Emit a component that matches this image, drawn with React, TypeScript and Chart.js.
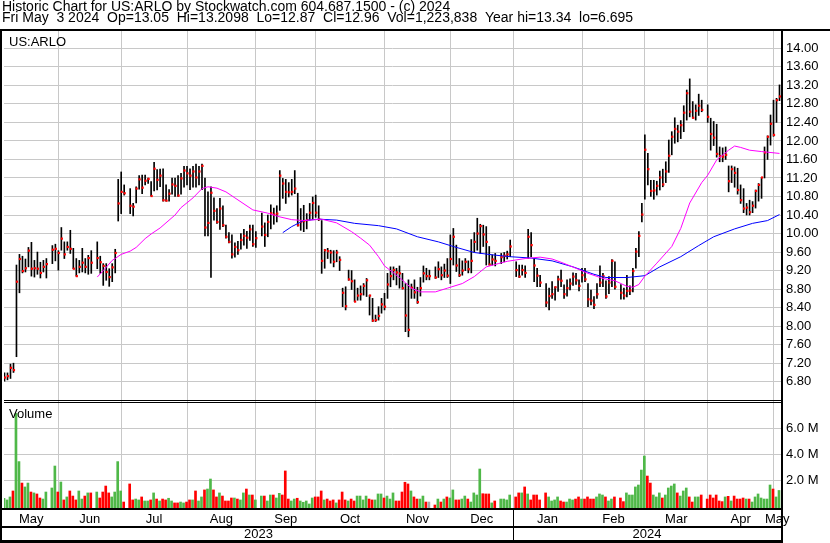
import React, { useEffect, useRef } from 'react';
import { Chart, registerables } from 'chart.js';

Chart.register(...registerables);

// Slot k = k-th weekday counted from Fri 5 May 2023 (k = 260 is Fri 3 May 2024); null = market holiday
const highs: (number | null)[] = [
  6.95, 6.99, 6.99, 7.18, 7.20, 9.32, 9.55, 9.51, 9.45, 9.70,
  9.81, 9.42, 9.60, 9.38, 9.42, 9.46, null, 9.74, 9.77, 9.63,
  10.13, 9.82, 9.82, 10.07, 9.68, 9.46, 9.42, 9.68, 9.46, 9.53,
  9.63, null, 9.82, 9.51, 9.35, 9.35, 9.24, 9.35, 9.66, 11.17,
  11.33, 11.05, null, 10.97, 10.65, 11.01, 11.25, 11.26, 11.26, 11.20,
  11.12, 11.54, 11.38, 11.39, 11.40, 11.05, 10.95, 11.20, 11.20, 11.25,
  11.30, 11.45, 11.45, 11.40, 11.45, 11.50, 11.45, 11.50, 11.20, 10.90,
  11.01, 10.77, 10.54, 10.76, 10.60, 10.18, 10.02, 9.97, 9.80, 9.83,
  10.00, 10.09, 10.05, 10.18, 10.18, 10.04, null, 10.44, 10.23, 10.40,
  10.62, 10.55, 10.60, 11.36, 11.19, 11.17, 11.10, 11.17, 11.36, 10.87,
  10.54, 10.61, 10.43, 10.65, 10.79, 10.83, 10.60, 10.28, 9.66, 9.68,
  9.64, 9.63, 9.64, 9.50, 8.82, 8.85, 9.21, 9.20, 9.00, 8.82,
  8.87, 8.92, 9.03, 8.67, 8.60, 8.24, 8.42, 8.60, 8.71, 9.14,
  9.28, 9.28, 9.25, 9.30, 9.14, 8.92, 9.00, 8.91, 9.00, 8.84,
  9.05, 9.30, 9.25, 9.21, null, 9.28, 9.39, 9.28, 9.34, 9.46,
  9.97, 10.11, 9.75, 9.46, 9.41, 9.46, 9.41, 9.87, 10.02, 10.33,
  10.20, 10.18, 10.15, 9.72, 9.54, 9.57, null, 9.57, 9.59, 9.62,
  9.86, null, 9.39, 9.32, 9.32, 9.30, 10.09, 10.02, 9.46, 9.25,
  9.10, null, 8.92, 8.82, 8.96, 8.85, 9.08, 9.21, 8.89, 9.00,
  9.02, 9.15, 9.14, 9.00, 9.25, 9.25, 8.92, 8.78, 8.64, 8.92,
  9.30, 9.14, 8.98, 9.07, 9.44, 9.39, null, 8.90, 8.82, 9.10,
  8.87, 9.25, 9.68, 10.04, 10.65, 12.13, 11.73, 11.15, 11.15, 11.13,
  11.35, 11.39, 11.55, 12.02, 12.20, 12.50, 12.34, 12.44, 12.76, 13.10,
  13.34, 12.85, 12.78, 13.01, 12.88, null, 12.78, 12.49, 12.42, 12.36,
  11.87, 11.85, 11.87, 11.46, 11.46, 11.44, 11.41, 11.05, 10.97, 10.65,
  10.72, 10.69, 10.94, 11.08, 11.21, 11.87, 12.11, 12.56, 12.88, 12.92,
  13.21,
];

const lows: (number | null)[] = [
  6.70, 6.81, 6.84, 6.87, 7.00, 7.34, 8.72, 9.15, 9.17, 9.28,
  9.08, 9.06, 9.12, 9.04, 9.17, 9.04, null, 9.35, 9.41, 9.21,
  9.64, 9.46, 9.64, 9.57, 9.24, 9.08, 9.15, 9.17, 9.15, 9.12,
  9.14, null, 9.24, 9.14, 8.88, 8.99, 8.86, 8.96, 9.15, 10.27,
  10.43, 10.83, null, 10.43, 10.38, 10.66, 10.96, 10.86, 11.05, 11.08,
  10.81, 10.92, 10.94, 11.01, 10.70, 10.70, 10.70, 10.85, 10.80, 10.80,
  10.85, 11.00, 11.05, 10.95, 11.00, 11.00, 11.05, 10.95, 9.95, 9.95,
  9.05, 10.29, 10.22, 10.09, 10.15, 9.90, 9.80, 9.47, 9.49, 9.55,
  9.66, 9.75, 9.68, 9.85, 9.72, 9.70, null, 9.95, 9.72, 9.93,
  10.10, 10.20, 10.25, 10.50, 10.76, 10.65, 10.79, 10.83, 10.86, 10.16,
  10.07, 10.04, 10.10, 10.29, 10.30, 10.35, 10.28, 9.14, 9.25, 9.46,
  9.36, 9.28, 9.39, 9.20, 8.42, 8.35, 8.99, 8.79, 8.53, 8.56,
  8.56, 8.67, 8.64, 8.24, 8.10, 8.10, 8.13, 8.28, 8.35, 8.60,
  8.85, 9.00, 8.89, 8.82, 8.80, 7.88, 7.77, 8.60, 8.60, 8.49,
  8.65, 8.95, 9.00, 9.00, null, 9.03, 9.05, 9.00, 9.05, 9.05,
  8.92, 9.32, 9.18, 9.07, 9.10, 9.20, 9.15, 9.15, 9.60, 9.64,
  9.57, 9.72, 9.32, 9.32, 9.32, 9.30, null, 9.35, 9.39, 9.45,
  9.50, null, 9.07, 9.05, 9.10, 9.05, 9.46, 9.50, 8.96, 8.85,
  8.85, null, 8.42, 8.35, 8.60, 8.56, 8.75, 8.85, 8.60, 8.65,
  8.78, 8.88, 8.90, 8.76, 8.95, 8.96, 8.42, 8.46, 8.38, 8.60,
  8.85, 8.85, 8.60, 8.70, 8.85, 8.80, null, 8.58, 8.58, 8.63,
  8.68, 8.74, 9.25, 9.50, 10.25, 10.74, 11.05, 10.80, 10.74, 10.83,
  10.94, 11.01, 11.10, 11.32, 11.70, 11.95, 11.98, 12.05, 12.20, 12.45,
  12.52, 12.49, 12.45, 12.55, 12.63, null, 12.40, 11.80, 11.90, 11.65,
  11.55, 11.55, 11.60, 10.90, 11.10, 11.00, 10.85, 10.65, 10.45, 10.40,
  10.40, 10.45, 10.55, 10.70, 10.76, 11.20, 11.60, 11.91, 12.10, 12.40,
  12.87,
];

const closes: (number | null)[] = [
  6.88, 6.89, 6.92, 7.10, 7.05, 8.96, 9.45, 9.19, 9.25, 9.63,
  9.24, 9.25, 9.24, 9.15, 9.28, 9.34, null, 9.65, 9.67, 9.58,
  9.89, 9.55, 9.71, 9.67, 9.24, 9.08, 9.28, 9.37, 9.28, 9.47,
  9.37, null, 9.47, 9.38, 9.30, 9.17, 9.06, 9.27, 9.58, 10.65,
  10.90, 10.87, null, 10.60, 10.58, 10.97, 11.17, 10.99, 11.14, 11.18,
  10.81, 11.40, 11.16, 11.25, 10.72, 10.71, 10.86, 11.06, 11.03, 10.82,
  11.19, 11.36, 11.30, 11.25, 11.34, 11.21, 11.34, 11.46, 10.13, 10.23,
  10.88, 10.49, 10.25, 10.54, 10.18, 9.93, 9.82, 9.55, 9.71, 9.64,
  9.86, 9.95, 9.91, 10.09, 9.77, 9.90, null, 10.15, 9.97, 10.25,
  10.44, 10.41, 10.43, 11.25, 11.08, 10.90, 10.89, 10.90, 10.97, 10.18,
  10.25, 10.27, 10.29, 10.45, 10.66, 10.45, 10.31, 9.41, 9.64, 9.62,
  9.59, 9.39, 9.59, 9.43, 8.72, 8.43, 9.01, 8.97, 8.53, 8.66,
  8.69, 8.87, 8.99, 8.66, 8.12, 8.13, 8.22, 8.47, 8.42, 8.90,
  9.08, 9.21, 9.16, 9.14, 8.82, 8.23, 7.92, 8.83, 8.73, 8.52,
  8.82, 9.14, 9.08, 9.08, null, 9.05, 9.23, 9.10, 9.20, 9.09,
  9.45, 9.93, 9.31, 9.10, 9.20, 9.39, 9.23, 9.41, 9.82, 10.00,
  10.16, 9.98, 9.82, 9.33, 9.44, 9.41, null, 9.49, 9.52, 9.55,
  9.72, null, 9.21, 9.07, 9.21, 9.15, 9.93, 9.75, 9.31, 9.09,
  8.94, null, 8.51, 8.65, 8.69, 8.84, 9.01, 8.98, 8.69, 8.82,
  8.92, 9.07, 8.99, 8.87, 9.10, 9.01, 8.58, 8.55, 8.46, 8.69,
  8.94, 9.08, 8.64, 8.94, 9.41, 8.85, null, 8.72, 8.66, 8.76,
  8.77, 9.19, 9.61, 9.95, 10.41, 11.81, 11.39, 10.92, 10.93, 11.03,
  11.21, 11.06, 11.34, 11.68, 12.09, 12.26, 12.20, 12.34, 12.61, 13.03,
  12.63, 12.50, 12.65, 12.76, 12.67, null, 12.52, 12.15, 12.07, 11.72,
  11.67, 11.66, 11.70, 11.13, 11.39, 11.31, 10.94, 10.72, 10.54, 10.56,
  10.46, 10.60, 10.92, 11.05, 11.21, 11.75, 12.09, 12.37, 12.13, 12.88,
  12.96,
];

// daily volume in millions of shares
const volumesM: (number | null)[] = [
  0.60, 0.62, 0.49, 0.72, 1.18, 7.15, 3.44, 1.79, 1.49, 1.79,
  1.10, 1.03, 0.95, 0.64, 0.56, 1.10, null, 1.41, 3.10, 1.10,
  1.87, 0.49, 0.72, 1.18, 0.79, 0.49, 1.18, 0.56, 0.79, 1.03,
  1.03, null, 1.10, 0.64, 1.10, 1.56, 1.03, 0.72, 1.10, 3.44,
  1.18, 0.33, null, 1.72, 0.49, 0.56, 0.49, 0.72, 0.41, 0.41,
  0.49, 1.03, 0.56, 0.41, 0.56, 0.49, 0.62, 0.41, 0.26, 0.26,
  0.33, 0.26, 0.33, 0.49, 0.49, 1.18, 0.41, 0.72, 1.26, 1.33,
  2.10, 1.26, 0.72, 1.03, 0.79, 0.41, 0.41, 0.64, 0.64, 0.56,
  0.49, 1.03, 1.33, 0.87, 0.87, 0.49, null, 0.79, 0.79, 0.41,
  0.87, 0.87, 0.64, 1.00, 0.87, 2.72, 0.56, 0.41, 0.56, 0.62,
  0.41, 0.31, 0.41, 0.18, 0.64, 0.72, 0.72, 1.18, 0.49, 0.56,
  0.41, 0.49, 0.26, 0.49, 1.10, 0.49, 0.41, 0.56, 0.41, 0.79,
  0.79, 0.49, 0.79, 0.56, 0.49, 0.49, 0.95, 0.95, 0.64, 0.79,
  0.56, 1.03, 0.41, 0.41, 1.10, 1.85, 1.72, 1.18, 0.72, 0.56,
  0.56, 0.79, 0.33, 0.33, null, 0.10, 0.56, 0.33, 0.56, 0.72,
  0.64, 1.26, 0.49, 0.49, 0.56, 0.79, 0.56, 0.33, 1.03, 0.87,
  2.87, 0.97, 0.95, 0.95, 0.26, 0.41, null, 0.56, 0.56, 0.49,
  0.87, null, 0.72, 1.03, 1.03, 1.49, 0.95, 0.49, 0.87, 0.87,
  0.49, null, 1.03, 0.72, 0.41, 0.49, 0.72, 0.41, 0.33, 0.33,
  0.56, 0.49, 0.56, 0.72, 0.56, 0.56, 0.72, 0.56, 0.56, 0.72,
  0.95, 0.87, 0.72, 0.41, 0.56, 0.72, null, 0.64, 0.36, 1.03,
  0.87, 0.87, 1.49, 1.64, 2.79, 3.87, 2.33, 1.79, 0.87, 0.72,
  1.03, 0.64, 0.87, 1.41, 1.56, 1.72, 1.03, 0.79, 1.18, 1.41,
  0.72, 0.33, 0.72, 0.72, 0.87, null, 0.56, 0.87, 0.64, 0.87,
  0.41, 0.36, 0.72, 0.77, 0.41, 0.79, 0.56, 0.56, 0.64, 0.56,
  0.56, 0.33, 0.72, 0.95, 0.64, 0.56, 0.56, 1.64, 1.33, 0.72,
  1.22,
];

// moving averages (slot, value)
const ma30Slots = [32, 34, 37, 40, 43, 45, 48, 50, 53, 58, 60, 64, 67, 69, 72, 75, 78, 84, 89, 93, 97, 101, 107, 112, 117, 120, 123, 126, 128, 133, 137, 140, 145, 149, 154, 158, 162, 166, 169, 175, 180, 184, 187, 192, 196, 201, 205, 209, 211, 213, 215, 219, 224, 227, 230, 234, 236, 239, 243, 245, 247, 250, 254, 260];
const ma30Values = [9.06, 9.20, 9.42, 9.55, 9.62, 9.70, 9.89, 9.99, 10.12, 10.40, 10.56, 10.77, 10.97, 11.01, 10.98, 10.90, 10.77, 10.51, 10.44, 10.36, 10.30, 10.28, 10.31, 10.23, 10.04, 9.90, 9.75, 9.50, 9.30, 9.05, 8.82, 8.74, 8.74, 8.82, 8.92, 9.07, 9.28, 9.35, 9.40, 9.46, 9.49, 9.45, 9.38, 9.25, 9.14, 9.03, 8.98, 8.86, 8.84, 8.90, 9.08, 9.36, 9.72, 10.11, 10.66, 11.10, 11.26, 11.59, 11.80, 11.89, 11.86, 11.80, 11.77, 11.73];
const ma90Slots = [94, 97, 101, 106, 112, 118, 126, 132, 139, 146, 151, 158, 164, 170, 177, 184, 191, 198, 202, 209, 215, 220, 227, 233, 238, 245, 251, 256, 260];
const ma90Values = [10.02, 10.15, 10.28, 10.31, 10.29, 10.22, 10.17, 10.10, 9.93, 9.82, 9.72, 9.59, 9.54, 9.50, 9.47, 9.41, 9.28, 9.12, 9.05, 9.05, 9.09, 9.28, 9.50, 9.74, 9.93, 10.10, 10.22, 10.28, 10.41];

// axis ticks / labels
const monthGridSlots = [19, 40, 62, 85, 105, 128, 150, 171, 194, 215, 236, 258];
const monthLabels = ['May', 'Jun', 'Jul', 'Aug', 'Sep', 'Oct', 'Nov', 'Dec', 'Jan', 'Feb', 'Mar', 'Apr', 'May'];
const yearLabels = ['2023', '2024'];
const yearBoundarySlot = 171;
const priceTicks = [6.8, 7.2, 7.6, 8.0, 8.4, 8.8, 9.2, 9.6, 10.0, 10.4, 10.8, 11.2, 11.6, 12.0, 12.4, 12.8, 13.2, 13.6, 14.0];
const volumeTicksM = [2, 4, 6];

const headerLine1 = 'Historic Chart for US:ARLO by Stockwatch.com 604.687.1500 - (c) 2024';
const headerLine2 = 'Fri May  3 2024  Op=13.05  Hi=13.2098  Lo=12.87  Cl=12.96  Vol=1,223,838  Year hi=13.34  lo=6.695';
const symbolLabel = 'US:ARLO';
const volumeLabel = 'Volume';

const FONT = '"Liberation Sans", Arial, Helvetica, sans-serif';
const GRID = '#c8c8c8';
const GREEN = '#4fb848';
const RED = '#ff0000';
const GRAY = '#a8a8a8';

const W = 830;
const H = 543;

const framePlugin = {
  id: 'stockFrame',
  beforeDraw(chart: any) {
    const ctx = chart.ctx;
    ctx.save();
    ctx.fillStyle = '#ffffff';
    ctx.fillRect(0, 0, chart.width, chart.height);
    ctx.restore();
  },
  afterDraw(chart: any) {
    const { ctx, chartArea } = chart;
    const xs = chart.scales.x;
    const left = chartArea.left;
    const right = chartArea.right;
    const top = chartArea.top;
    const bottom = chartArea.bottom;
    const priceBottom = chart.scales.yPrice.bottom;
    ctx.save();
    ctx.fillStyle = '#000000';
    ctx.textBaseline = 'alphabetic';
    ctx.textAlign = 'left';
    ctx.font = `14px ${FONT}`;
    ctx.fillText(headerLine1, 2, 11);
    ctx.fillText(headerLine2, 2, 22);
    ctx.font = `13px ${FONT}`;
    ctx.fillText(symbolLabel, 9, 46);
    ctx.fillText(volumeLabel, 9, priceBottom + 18);

    ctx.textAlign = 'center';
    const bounds = [left, ...monthGridSlots.map((s) => xs.getPixelForValue(s)), right];
    monthLabels.forEach((m, i) => {
      ctx.fillText(m, (bounds[i] + bounds[i + 1]) / 2, bottom + 15);
    });
    const yb = Math.floor(xs.getPixelForValue(yearBoundarySlot));
    ctx.fillText(yearLabels[0], (left + yb) / 2, bottom + 30);
    ctx.fillText(yearLabels[1], (yb + right) / 2, bottom + 30);

    // frame lines
    ctx.fillRect(0, top - 2, W, 2);
    ctx.fillRect(0, top - 2, 2, H - top + 2);
    ctx.fillRect(right, top - 2, 2, H - top + 2);
    ctx.fillRect(left, priceBottom, right - left, 1);
    ctx.fillRect(left, priceBottom + 2, right - left, 1);
    ctx.fillRect(0, bottom, right + 2, 2);
    ctx.fillRect(0, bottom + 18, right + 2, 2);
    ctx.fillRect(0, H - 3, right + 2, 3);
    ctx.fillRect(yb, bottom, 1, H - bottom);
    ctx.restore();
  },
};

export default function App() {
  const ref = useRef<HTMLCanvasElement | null>(null);

  useEffect(() => {
    const canvas = ref.current;
    if (!canvas) return;

    const X_MIN = 2.5 / 3;
    const X_MAX = 260.5;
    const CLOSE_SHIFT = 1 / 6;
    const VOL_SHIFT = -1 / 6;
    const VOL_MIN = -0.13;
    const VOL_MAX = 8.18;
    const P_MIN = 6.405;
    const P_MAX = 14.374;

    const ohlc: any[] = [];
    const closePts: any[] = [];
    const vol: any[] = [];
    const volColors: string[] = [];
    let prev: number | null = null;
    closes.forEach((c, k) => {
      if (c == null) return;
      ohlc.push({ x: k, y: [lows[k], highs[k]] });
      closePts.push({ x: k + CLOSE_SHIFT, y: c });
      vol.push({ x: k + VOL_SHIFT, y: [VOL_MIN, volumesM[k]] });
      volColors.push(prev == null || c === prev ? GRAY : c > prev ? GREEN : RED);
      prev = c;
    });
    const ma30 = ma30Slots.map((s, i) => ({ x: s, y: ma30Values[i] }));
    const ma90 = ma90Slots.map((s, i) => ({ x: s, y: ma90Values[i] }));

    const chart = new Chart(canvas, {
      type: 'bar',
      data: {
        datasets: [
          { type: 'line', data: ma30, borderColor: '#ff00ff', borderWidth: 1, pointRadius: 0, yAxisID: 'yPrice', order: 0 } as any,
          { type: 'line', data: ma90, borderColor: '#0000ff', borderWidth: 1, pointRadius: 0, yAxisID: 'yPrice', order: 0 } as any,
          {
            type: 'line', data: closePts, showLine: false, pointStyle: 'rect', pointRadius: 1.55,
            pointBackgroundColor: RED, pointBorderWidth: 0, yAxisID: 'yPrice', order: 1,
          } as any,
          { type: 'bar', data: ohlc, backgroundColor: '#000000', barThickness: 1, grouped: false, yAxisID: 'yPrice', order: 2 } as any,
          { type: 'bar', data: vol, backgroundColor: volColors, barThickness: 2, grouped: false, yAxisID: 'yVol', order: 3 } as any,
        ],
      },
      options: {
        responsive: false,
        animation: false,
        devicePixelRatio: 1,
        events: [],
        layout: { padding: { left: 2, top: 31, right: 0, bottom: 35 } },
        plugins: { legend: { display: false }, tooltip: { enabled: false } },
        scales: {
          x: {
            type: 'linear',
            min: X_MIN,
            max: X_MAX,
            offset: false,
            afterBuildTicks: (s: any) => { s.ticks = monthGridSlots.map((v) => ({ value: v })); },
            afterFit: (s: any) => { s.height = 0; },
            ticks: { display: false },
            grid: { color: GRID, drawTicks: false, offset: false },
            border: { display: false },
          },
          yPrice: {
            type: 'linear',
            position: 'right',
            stack: 'panels',
            stackWeight: 369,
            min: P_MIN,
            max: P_MAX,
            afterBuildTicks: (s: any) => { s.ticks = priceTicks.map((v) => ({ value: v })); },
            afterFit: (s: any) => { s.width = W - 781; },
            ticks: {
              autoSkip: false,
              padding: 5,
              color: '#000000',
              font: { family: FONT, size: 13 },
              callback: (v: any) => Number(v).toFixed(2),
            },
            grid: { color: GRID, drawTicks: false },
            border: { display: false },
          },
          yVol: {
            type: 'linear',
            position: 'right',
            stack: 'panels',
            stackWeight: 108,
            min: VOL_MIN,
            max: VOL_MAX,
            afterBuildTicks: (s: any) => { s.ticks = volumeTicksM.map((v) => ({ value: v })); },
            afterFit: (s: any) => { s.width = W - 781; },
            ticks: {
              autoSkip: false,
              padding: 5,
              color: '#000000',
              font: { family: FONT, size: 13 },
              callback: (v: any) => `${Number(v).toFixed(1)} M`,
            },
            grid: { color: GRID, drawTicks: false },
            border: { display: false },
          },
        },
      } as any,
      plugins: [framePlugin],
    });

    return () => chart.destroy();
  }, []);

  return (
    <div style={{ position: 'fixed', left: 0, top: 0, width: W, height: H, background: '#ffffff' }}>
      <canvas ref={ref} width={W} height={H} style={{ display: 'block', width: W, height: H }} />
    </div>
  );
}
